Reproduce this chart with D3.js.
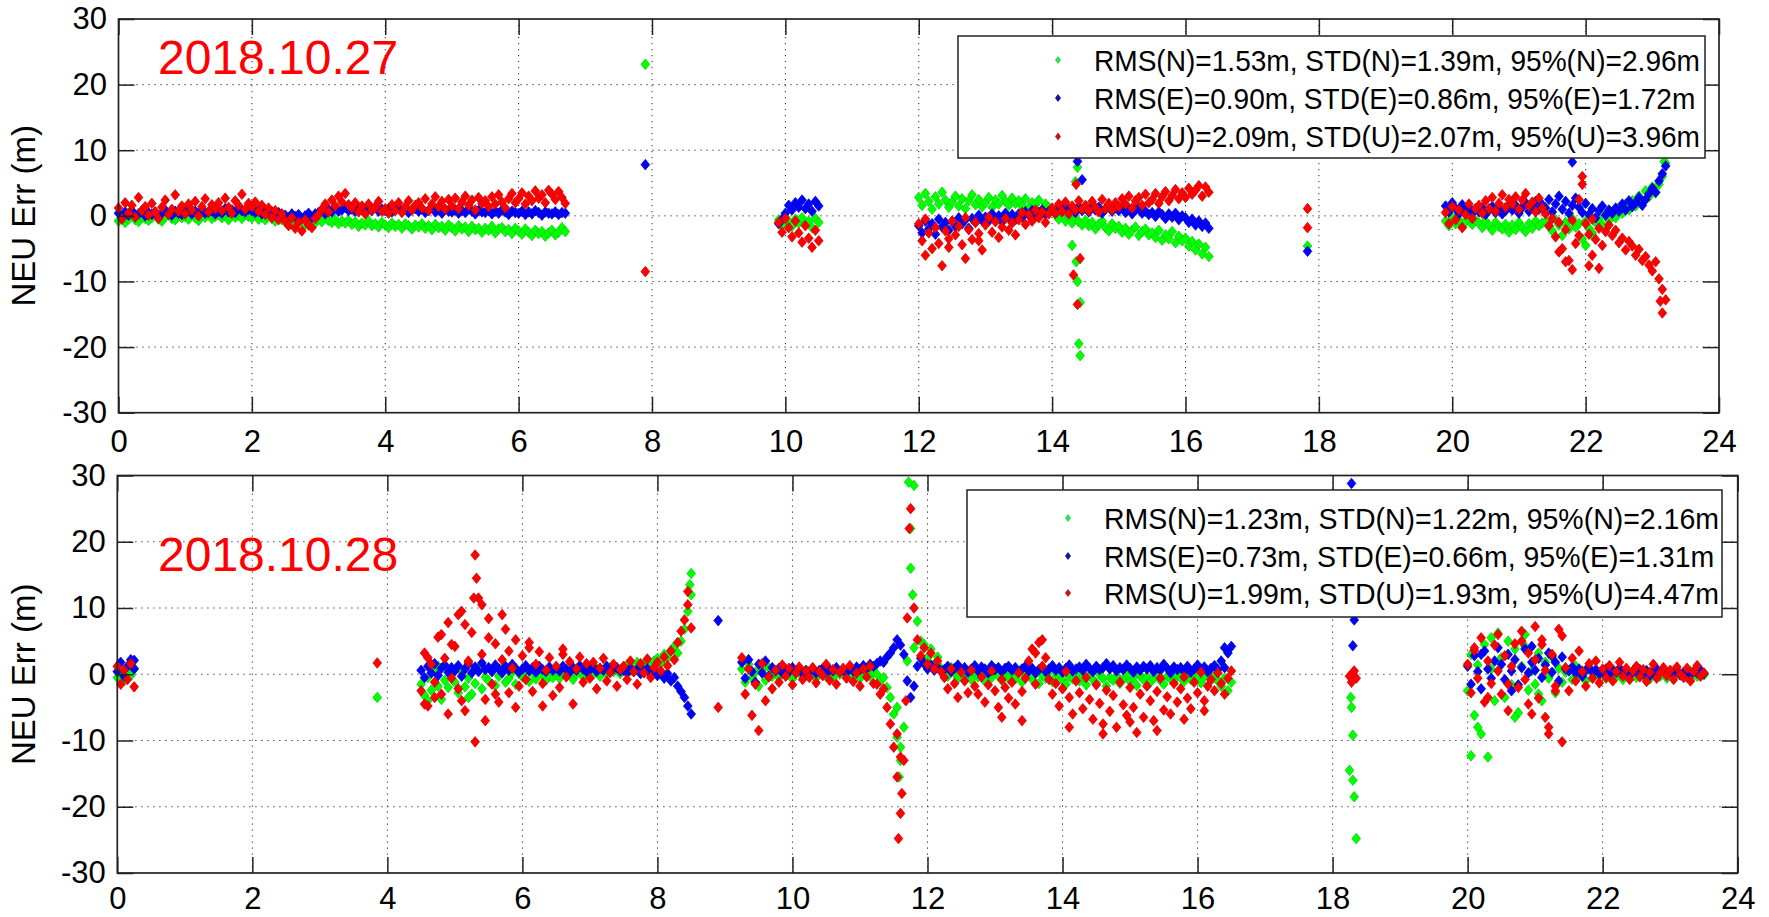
<!DOCTYPE html>
<html><head><meta charset="utf-8">
<script src="https://cdn.jsdelivr.net/npm/d3@7"></script>
<style>
body{margin:0;background:#fff}
svg{display:block}
text{font-family:"Liberation Sans",Arial,Helvetica,sans-serif}
</style>
</head><body>
<svg id="c" width="1769" height="917"></svg>
<script>
// ---------------- data ----------------
const xTicks = [0,2,4,6,8,10,12,14,16,18,20,22,24];
const yTicks = [-30,-20,-10,0,10,20,30];
const xDomain = [0,24];
const yDomain = [-30,30];
const EPOCH = 0.05; // hours between plotted epochs
const titles = ["2018.10.27","2018.10.28"];
const d27Legend = ["RMS(N)=1.53m, STD(N)=1.39m, 95%(N)=2.96m","RMS(E)=0.90m, STD(E)=0.86m, 95%(E)=1.72m","RMS(U)=2.09m, STD(U)=2.07m, 95%(U)=3.96m"];
const d28Legend = ["RMS(N)=1.23m, STD(N)=1.22m, 95%(N)=2.16m","RMS(E)=0.73m, STD(E)=0.66m, 95%(E)=1.31m","RMS(U)=1.99m, STD(U)=1.93m, 95%(U)=4.47m"];

// 2018.10.27 : start time (h) of each continuous segment
const d27Start = [0, 9.9, 12.0, 19.9];
const d27N = [
 [-0.8,-0.3,-1.0,-0.5,0.2,-0.6,-0.9,-0.2,-0.4,-0.7, -0.3,0.1,-0.5,-0.8,-0.2,0.3,-0.4,-0.6,0.0,-0.3,
  -0.1,-0.5,0.2,-0.3,-0.7,0.1,-0.2,0.4,-0.4,-0.1, 0.2,-0.3,0.0,-0.6,0.3,-0.2,0.1,-0.4,0.2,-0.1,
  -0.3,0.1,-0.5,-0.2,-0.6,-0.1,-0.4,-0.8,-0.3,-0.6, -0.9,-0.4,-1.2,-0.7,-1.0,-0.5,-1.3,-0.8,-0.6,-1.1,
  -0.5,-0.9,-0.3,-0.7,-1.0,-0.6,-1.2,-0.8,-1.1,-0.7, -1.3,-0.9,-1.6,-1.1,-1.4,-0.8,-1.5,-1.2,-1.7,-1.0,
  -1.4,-1.8,-1.1,-1.6,-1.3,-1.9,-1.2,-1.5,-2.0,-1.4, -1.7,-1.2,-1.9,-1.5,-2.1,-1.3,-1.8,-1.6,-2.2,-1.4,
  -1.8,-2.3,-1.5,-2.0,-1.7,-2.4,-1.6,-2.1,-1.9,-2.5, -1.9,-2.2,-1.6,-2.6,-2.0,-1.8,-2.4,-2.1,-2.7,-1.9,
  -2.3,-2.8,-2.0,-2.5,-3.0,-2.2,-2.7,-2.4,-3.1,-2.6, -2.2,-2.9,-2.5,-1.8,-2.4],
 [-0.6,-1.4,-0.2,-0.9,-1.6,-0.5,-1.1,-0.3,-1.3,-0.8,-1.8,-0.4,-1.0],
 [2.8,1.6,3.4,2.2,1.0,2.9,1.8,3.6,2.4,1.3, 2.1,3.0,1.5,2.6,1.1,2.3,3.2,1.7,2.5,1.4,
  2.0,2.8,1.3,2.4,1.8,3.1,2.2,1.6,2.7,1.9, 2.3,1.5,2.6,1.2,2.0,1.7,2.4,0.9,1.8,1.3,
  0.8,0.2,-0.5,0.4,-0.8,-0.2,-1.1,-0.4,-0.9,-1.4, -0.7,-1.5,-1.0,-2.0,-1.3,-0.8,-1.8,-2.3,-1.2,-1.9,
  -1.6,-2.5,-1.9,-2.8,-2.2,-1.7,-3.0,-2.4,-2.0,-2.9, -2.6,-3.3,-2.2,-3.7,-2.9,-3.5,-2.4,-4.1,-3.1,-3.8,
  -3.4,-4.6,-3.9,-5.2,-4.3,-5.8,-4.8,-6.2],
 [-0.8,-1.5,-0.3,-1.2,-0.6,-1.7,-0.9,-0.4,-1.3,-0.7, -1.1,-1.8,-0.8,-1.5,-2.2,-1.0,-1.6,-2.0,-1.3,-2.5,
  -1.4,-2.1,-1.0,-1.8,-2.4,-1.2,-1.9,-0.8,-1.5,-1.1, -0.9,-1.6,-2.3,-0.6,-1.4,-3.0,-1.0,-2.0,-0.4,-1.7,
  -1.2,-3.5,-0.8,-1.9,-2.6,-1.0,-0.5,-1.4,0.2,-0.7, 0.5,-0.3,1.2,0.4,1.8,0.9,2.3,1.5,3.0,2.0,
  3.8,2.9,4.4,3.5,4.8,6.0,8.0]
];
const d27E = [
 [0.4,-0.2,0.6,0.1,0.8,-0.1,0.3,0.7,0.0,0.5, 0.2,0.6,-0.1,0.4,0.9,0.3,0.1,0.7,0.4,0.2,
  0.5,0.9,0.3,0.7,0.2,1.0,0.4,0.6,0.8,0.3, 0.7,0.4,1.1,0.6,0.9,0.5,1.2,0.8,0.6,1.0,
  0.8,0.5,0.9,0.3,0.7,0.4,0.6,0.1,0.5,0.2, 0.1,-0.3,0.3,-0.1,0.2,-0.4,0.0,0.4,-0.2,0.3,
  0.5,0.8,0.3,1.0,0.6,1.2,0.7,0.9,1.3,0.8, 1.0,0.7,1.2,0.9,0.6,1.1,0.8,1.3,0.7,1.0,
  0.8,1.1,0.6,0.9,1.2,0.7,1.0,0.5,0.9,1.1, 0.7,1.0,0.5,0.8,1.2,0.6,0.9,0.4,1.0,0.7,
  0.6,0.9,0.4,0.8,0.5,1.0,0.7,0.3,0.8,0.6, 0.5,0.8,0.3,0.7,0.4,0.9,0.6,0.2,0.7,0.5,
  0.4,0.7,0.2,0.6,0.3,0.8,0.5,0.1,0.6,0.4, 0.3,0.6,0.2,0.5,0.4],
 [-1.2,-0.5,0.4,1.6,0.9,2.0,1.3,2.4,1.1,1.8,0.7,2.2,1.5],
 [-1.5,-2.6,-0.8,-2.0,-1.2,-2.8,-0.5,-1.7,-1.0,-2.2, -0.9,-1.6,-0.3,-1.2,-0.6,-1.9,-0.4,-1.0,0.1,-0.7,
  -0.2,-0.8,0.3,-0.5,0.0,-0.9,0.4,-0.3,0.2,-0.6, 0.3,-0.2,0.6,0.1,0.8,-0.1,0.5,0.9,0.2,0.7,
  1.0,0.4,1.3,0.7,1.5,0.9,1.2,0.5,1.4,0.8, 1.1,0.6,1.5,0.9,1.3,0.4,1.0,1.6,0.7,1.2,
  0.8,1.3,0.5,1.0,0.3,0.9,1.2,0.4,0.7,0.2, 0.5,-0.1,0.6,0.2,-0.4,0.3,-0.2,0.4,-0.6,0.0,
  -0.3,-1.0,-0.5,-1.4,-0.8,-1.6,-1.1,-1.9],
 [1.5,0.6,2.0,1.1,0.3,1.7,0.8,1.3,0.4,1.0, 0.6,1.2,0.2,0.9,1.4,0.5,1.1,0.3,0.8,1.5,
  0.9,1.6,0.4,1.3,2.0,0.7,1.4,2.2,1.0,1.7, 1.2,2.5,0.6,1.8,3.0,1.0,2.2,0.4,1.6,2.7,
  1.3,0.5,1.9,0.2,1.1,-0.3,0.8,1.5,0.1,0.9, 0.4,1.2,0.7,1.8,0.9,2.3,1.4,2.0,2.8,1.6,
  2.5,3.4,4.2,3.6,5.3,6.4,7.6]
];
const d27U = [
 [1.2,-0.5,2.0,0.4,1.6,-0.2,2.8,0.8,1.4,0.1, 1.9,0.6,-0.4,1.3,2.4,0.2,1.0,3.2,0.7,1.5,
  0.3,1.8,0.9,2.2,0.0,1.4,2.6,0.6,1.7,1.1, 2.0,0.8,2.7,1.3,0.4,2.3,1.6,3.3,1.0,1.9,
  1.4,2.1,0.7,1.6,0.2,1.2,-0.3,0.8,-0.6,0.3, -0.8,-1.5,-0.3,-1.9,-1.0,-2.3,-0.6,-1.4,-1.8,-0.4,
  0.2,1.0,1.8,0.6,2.4,1.5,3.0,2.1,3.4,1.7, 1.2,2.0,0.6,1.5,0.3,1.8,0.9,1.3,2.2,0.7,
  1.1,0.4,1.7,0.8,2.0,0.5,1.4,2.3,0.9,1.6, 2.0,1.2,2.6,0.8,1.8,2.9,1.4,2.2,1.0,2.5,
  1.5,2.7,1.1,2.1,3.0,1.6,2.4,0.9,2.8,1.9, 2.3,1.4,2.9,1.8,3.2,2.1,1.2,2.6,3.4,2.0,
  2.6,3.5,1.8,3.0,2.3,3.8,2.7,3.2,2.0,3.9, 3.3,2.5,3.7,2.8,1.9],
 [-1.0,-2.5,-0.4,-1.8,-3.2,-0.8,-2.6,-4.0,-1.5,-3.4,-4.8,-2.2,-3.8],
 [-1.2,-3.8,-0.5,-2.6,-5.0,-1.8,-4.2,-7.6,-2.3,-3.5, -0.8,-2.9,-1.6,-4.4,-0.3,-2.1,-3.6,-1.0,-2.7,-5.2,
  -1.4,-0.2,-2.5,-0.9,-3.3,-1.7,-0.4,-2.2,-1.1,-2.9, -0.6,0.5,-1.3,0.2,-0.8,0.9,-0.3,0.6,-1.0,0.3,
  1.2,0.4,1.8,0.7,2.1,0.3,1.5,0.9,2.3,1.0, 1.6,0.8,2.2,1.3,0.6,2.5,1.1,1.9,0.9,2.0,
  1.4,2.6,1.8,3.0,1.2,2.3,2.8,1.6,3.3,2.0, 2.5,3.4,1.9,2.9,3.7,2.3,3.1,4.0,2.6,3.5,
  2.8,4.2,3.3,3.9,4.6,3.0,4.4,3.6],
 [0.5,-1.2,1.4,-0.6,0.9,-1.8,0.2,1.8,-0.4,1.1, 1.6,0.4,2.3,1.1,2.8,0.7,1.9,3.2,1.3,2.5,
  1.8,2.9,1.0,2.4,3.4,1.5,2.1,0.6,2.7,1.2, 0.3,-1.5,-0.4,-3.2,-1.0,-5.0,-2.1,-6.8,-0.7,-4.2,
  2.5,4.8,-1.2,-2.8,-0.5,-3.6,-1.9,-4.5,-2.4,-1.4, -3.0,-2.2,-4.1,-3.4,-5.2,-3.9,-4.6,-6.0,-5.1,-6.8,
  -6.2,-7.5,-8.4,-7.0,-9.6,-11.2,-12.8]
];
// isolated epochs [time h, value m]
const d27N_iso = [[7.9,23.1],[14.38,7.4],[14.35,5.2],[14.3,-4.5],[14.36,-7.0],[14.38,-10.0],[14.42,-13.2],[14.4,-19.5],[14.42,-21.3],[17.83,-4.6],[22.0,-4.5],[22.1,-3.0],[23.18,8.3]];
const d27E_iso = [[7.9,7.8],[14.38,8.3],[14.45,5.5],[17.83,-5.4],[21.8,8.2]];
const d27U_iso = [[7.9,-8.5],[12.1,-6.0],[12.45,-4.8],[12.7,-6.5],[12.9,-3.8],[14.38,-13.5],[14.32,-9.0],[14.42,-6.5],[14.36,4.8],[17.83,1.1],[17.83,-1.8],[21.6,-5.5],[21.7,-7.0],[21.9,-3.0],[21.95,6.0],[21.8,-8.2],[22.05,-7.6],[22.1,-6.0],[22.2,-8.0],[23.15,-14.8],[23.12,-13.0]];

// 2018.10.28
const d28Start = [0, 4.5, 9.25, 20.0];
const d28N = [
 [-0.5,0.3,-1.0,0.6,-0.2,0.9],
 [-1.5,-3.2,-0.5,-2.4,0.6,-1.8,-3.8,-0.9,-2.0,0.2, -1.2,-2.8,0.4,-1.9,-0.6,-3.0,-1.4,0.8,-2.2,-0.4,
  -1.0,0.5,-1.7,-0.3,0.9,-1.2,-0.6,0.3,-1.5,0.1, -0.4,0.6,-1.1,0.2,-0.7,0.8,-0.2,-0.9,0.4,-0.5,
  0.3,-0.6,0.7,-0.2,0.5,-0.8,0.1,0.6,-0.4,0.2, 0.5,0.0,0.8,-0.3,0.6,0.2,1.0,0.4,0.9,0.1,
  0.8,1.4,0.5,1.2,1.8,0.9,1.5,2.2,1.1,2.0, 2.4,1.7,3.0,2.5,3.6,4.2,3.2,5.0,6.8,9.5, 12.0],
 [0.8,-1.2,1.5,-0.5,0.3,-1.8,0.6,-0.9,1.0,-0.3, 0.2,-0.5,0.6,-0.2,0.4,-0.7,0.1,0.5,-0.4,0.3,
  -0.2,0.4,-0.6,0.1,0.5,-0.3,0.2,-0.5,0.6,0.0, 0.3,-0.4,0.7,-0.1,0.5,-0.6,0.2,0.8,-0.3,0.4,
  0.0,-1.0,-0.5,-2.0,-3.5,-6.0,-9.5,-13.0,-8.0,2.0,16.0,28.5, 8.0,5.0,4.5,2.5,3.8,1.5,2.6,0.9,
  0.5,-0.3,1.0,0.2,-0.6,0.7,-0.1,0.4,-0.8,0.3, -0.4,0.6,-1.0,0.1,-0.5,0.8,-0.2,-0.9,0.3,-0.6,
  0.2,-0.7,0.5,-1.2,-0.3,0.4,-0.8,0.1,-1.4,-0.2, -0.6,0.3,-1.1,-0.4,0.2,-0.9,-1.5,-0.3,-0.7,0.1,
  -1.0,-0.4,-1.6,-0.2,-0.8,-1.3,0.0,-0.6,-1.8,-0.5, -0.9,-0.3,-1.4,-0.7,0.1,-1.1,-0.5,-1.7,-0.2,-0.8,
  -0.4,-1.2,-0.6,0.2,-0.9,-1.5,-0.3,-0.7,-1.0,0.0, -0.5,-1.1,-0.2,-0.8,0.3,-0.6,-1.3,-0.4,0.1,-0.9,
  -0.3,-1.0,-1.8,-0.6,-2.5,-1.2],
 [-2.5,3.0,-6.2,1.4,-9.0,4.5,-12.5,0.8,-4.0,6.2, 2.5,-3.5,5.0,-1.6,3.8,-5.8,1.2,4.2,-2.4,0.5,
  -1.5,3.2,-4.0,1.8,-0.6,2.6,-2.8,0.9,-1.2,0.3, 0.6,-0.8,1.2,-0.3,0.5,-1.0,0.8,-0.5,0.3,-0.2,
  0.4,-0.6,0.2,0.7,-0.4,0.1,-0.8,0.5,-0.2,0.3, -0.5,0.3,-0.2,0.6,-0.7,0.1,0.4,-0.3,0.2,-0.6,
  0.3,-0.4,0.5,-0.1,0.2,-0.5,0.4,0.0,-0.3,0.2,-0.1]
];
const d28E = [
 [0.4,1.8,-0.3,1.2,2.2,0.8],
 [0.6,-0.5,1.2,0.2,1.6,-0.2,0.9,1.4,0.3,1.0, 0.5,1.3,-0.3,0.8,1.5,0.2,1.1,0.4,1.7,0.7,
  1.0,0.4,1.4,0.8,0.2,1.2,0.6,1.5,0.9,0.3, 0.8,1.3,0.5,1.0,0.3,1.2,0.7,0.4,1.1,0.6,
  0.9,0.5,1.2,0.7,0.3,1.0,0.6,1.3,0.8,0.4, 0.7,1.1,0.4,0.9,0.6,1.2,0.3,0.8,1.0,0.5,
  0.6,0.2,0.9,0.4,0.7,0.1,0.5,0.8,0.0,0.3, -0.2,0.4,-0.6,0.1,-1.0,-0.5,-1.8,-2.6,-3.5,-4.8, -6.0],
 [1.8,-0.6,2.2,0.4,-1.2,1.5,0.2,2.0,-0.3,1.0, 0.5,0.9,0.2,0.7,0.4,1.0,0.3,0.8,0.1,0.6,
  0.4,0.8,0.2,0.6,0.9,0.3,0.7,0.5,1.0,0.4, 0.6,0.3,0.9,0.5,1.1,0.7,1.3,0.9,1.5,1.2,
  1.6,2.0,1.8,2.6,3.2,4.0,5.2,4.4,3.0,-1.0,-3.5,-1.8, 1.2,2.4,1.6,0.8,1.4,0.6,1.0,0.5,
  0.7,1.2,0.4,0.9,1.4,0.6,1.0,0.3,0.8,1.3, 0.5,1.1,0.8,0.2,1.3,0.7,1.0,0.4,0.9,1.2,
  0.6,1.0,0.3,0.8,1.2,0.5,0.9,0.2,0.7,1.1, 0.4,0.8,1.3,0.6,1.0,0.3,0.9,1.4,0.5,0.8,
  1.1,0.6,1.5,0.9,0.4,1.2,0.7,1.0,1.6,0.8, 1.3,0.5,1.0,0.7,1.4,0.9,0.3,1.1,0.6,1.2,
  0.8,1.3,0.4,1.0,0.6,1.5,0.9,0.2,1.1,0.7, 1.0,0.5,1.2,0.3,0.8,1.4,0.6,1.1,0.4,0.9,
  1.3,0.7,2.0,1.0,3.2,4.2],
 [1.2,-1.5,2.8,0.4,-2.2,3.5,0.8,-0.6,2.0,4.0, 1.5,-0.8,3.0,0.5,2.2,-1.6,1.0,3.8,0.2,1.8,
  0.6,2.4,-0.5,1.4,3.2,0.3,1.8,-1.0,2.6,0.8, 0.5,1.1,0.2,0.8,-0.3,0.6,1.0,0.3,0.7,0.1,
  0.4,0.8,0.0,0.6,0.3,0.9,0.2,0.5,-0.1,0.4, 0.3,0.7,0.1,0.5,-0.2,0.4,0.8,0.2,0.6,0.0,
  0.4,0.1,0.6,-0.1,0.3,0.5,0.0,0.4,0.2,0.6,0.1]
];
const d28U = [
 [1.2,-1.5,0.6,-0.8,1.6,-1.9],
 [-2.5,3.2,-4.8,1.5,-1.2,5.6,-3.0,2.4,7.8,-0.6, 4.2,-2.2,9.5,-5.5,1.8,6.3,-10.2,11.5,3.0,-3.8,
  8.4,-1.5,4.6,-4.2,2.2,6.8,-2.8,0.9,5.2,-1.8, 2.8,-0.8,4.0,-2.6,1.5,3.4,-1.4,0.6,2.5,-3.2,
  1.2,-2.0,3.0,-0.4,1.9,-4.5,0.8,2.6,-1.2,1.6, -0.6,1.8,-2.2,0.9,2.4,-1.0,0.3,1.5,-1.8,0.7,
  1.2,-0.8,2.0,0.4,-1.5,1.6,0.2,2.3,-0.5,1.0, 1.8,0.5,2.6,1.3,3.5,2.2,4.8,6.5,8.2,10.5, 7.0],
 [2.5,-3.0,0.8,-6.2,-1.5,-8.5,1.6,-4.0,-0.4,-2.2, 0.6,-1.2,1.4,-0.3,0.9,-1.6,0.2,1.1,-0.8,0.5,
  -0.5,1.0,-1.3,0.4,-0.2,1.5,-0.9,0.7,-1.5,0.3, 0.9,-0.6,1.3,-1.1,0.2,-1.8,0.8,-0.4,1.2,-1.4,
  -1.5,-3.0,-2.2,-5.0,-7.5,-11.0,-15.5,-21.0,-13.0,8.5,25.0,10.0, 5.2,2.8,4.0,1.5,3.2,0.8,2.0,0.4,
  -0.5,-2.2,0.8,-1.4,-3.5,0.3,-1.0,-2.8,0.6,-1.8, -3.0,-0.4,-4.2,-1.6,0.5,-2.5,-5.0,-0.8,-2.0,-3.6,
  -1.2,-4.5,0.2,-2.6,-0.6,2.0,3.8,-1.5,4.8,1.2, 2.5,-0.8,-3.0,-1.4,-4.8,-2.2,0.4,-3.5,-6.0,-1.0,
  -2.8,-5.2,-0.5,-3.8,-6.8,-1.6,-4.4,-7.5,-2.4,-5.6, -3.2,-8.0,-1.2,-4.6,-6.2,-2.0,-5.0,-8.8,-3.0,-6.5,
  -1.8,-4.0,-7.0,-2.6,-0.6,-5.4,-3.4,-6.0,-1.4,-4.2, -2.2,-0.4,-3.6,-5.2,-1.2,-2.8,0.3,-4.0,-1.8,-0.8,
  -2.5,0.2,-1.4,-3.0,-0.6,0.5],
 [1.5,-2.8,3.6,-0.6,5.5,-4.2,2.0,-1.4,4.4,0.5, -3.0,2.8,-5.5,1.2,4.6,-2.0,6.5,-0.8,3.2,-6.0,
  2.2,-3.6,5.2,0.6,-8.0,3.0,-1.8,6.8,-10.2,1.0, -2.5,2.4,-1.0,3.5,0.4,-1.8,1.6,-0.6,2.0,-1.3,
  0.8,-0.5,1.3,-1.0,0.4,1.8,-0.3,0.9,-0.8,0.5, 1.2,-0.4,0.7,-1.1,0.3,1.5,-0.6,0.2,1.0,-0.2,
  0.6,-0.8,1.1,0.0,-0.5,0.9,-1.0,0.4,1.3,-0.3,0.2]
];
const d28N_iso = [[3.85,-3.5],[4.6,-4.0],[4.75,1.2],[5.2,-3.5],[8.5,15.2],[8.48,13.5],[11.58,-15.5],[11.6,-11.0],[11.55,-5.0],[11.72,29.0],[11.75,22.0],[11.78,12.0],[11.8,4.0],[18.27,-3.5],[18.28,-5.0],[18.3,-9.2],[18.25,-14.5],[18.3,-16.0],[18.32,-18.5],[18.35,-24.8],[20.05,-12.3],[20.15,-8.0],[20.35,5.5],[20.7,-6.5],[20.85,6.0],[21.05,-3.0]];
const d28E_iso = [[0.25,2.1],[8.9,8.1],[16.4,4.0],[18.28,28.8],[18.3,10.0],[18.32,8.2],[18.3,4.3],[20.2,3.0],[20.65,-2.5],[20.95,4.2],[21.25,2.8]];
const d28U_iso = [[3.85,1.7],[4.55,-4.5],[4.6,2.5],[4.7,-3.5],[4.8,6.0],[4.9,-6.0],[4.95,4.5],[5.05,9.0],[5.1,-4.0],[5.15,7.5],[5.2,2.0],[5.28,11.5],[5.32,14.5],[5.3,18.0],[5.4,10.5],[5.45,-7.0],[5.5,5.5],[5.6,-3.0],[5.7,9.0],[5.8,3.5],[5.9,-5.0],[6.1,4.8],[6.3,-4.8],[6.6,3.8],[8.45,12.5],[8.9,-5.0],[11.55,-9.0],[11.6,-12.5],[11.62,-18.0],[11.57,-24.8],[11.68,-4.0],[11.73,22.0],[13.1,-6.5],[13.4,-7.0],[13.6,3.2],[13.7,5.2],[14.1,-8.0],[14.6,-9.0],[15.0,-7.2],[15.4,-8.5],[15.8,-6.8],[16.1,-5.5],[18.25,-0.3],[18.3,0.2],[18.35,-0.6],[18.28,-1.2],[18.32,0.5],[20.1,4.0],[20.3,-3.5],[20.45,6.0],[20.6,-1.5],[20.8,5.0],[20.9,-4.5],[21.0,7.2],[21.1,4.5],[21.15,-6.5],[21.2,-9.0],[21.3,-2.5],[21.4,5.8]];

// ---------------- drawing ----------------
const svg = d3.select("#c");
svg.append("rect").attr("width",1769).attr("height",917).attr("fill","#fff");

const seriesStyle = [
  {fill:"#00ff00", stroke:"#00cc00", legend:"#33dd55"},
  {fill:"#0000ff", stroke:"#0000c0", legend:"#1414a8"},
  {fill:"#ff0000", stroke:"#d00000", legend:"#c01818"}
];
const diamond = "M0,-5.3L4.4,0L0,5.3L-4.4,0Z";
const legDiamond = "M0,-4L3,0L0,4L-3,0Z";

function toPoints(starts, segs, iso){
  const pts = [];
  segs.forEach((vals,si)=>vals.forEach((v,i)=>pts.push([starts[si]+i*EPOCH, v])));
  iso.forEach(p=>pts.push(p));
  return pts;
}

const panels = [
  {l:118.5, r:1719, t:19, b:412.7, pad:17, starts:d27Start, series:[[d27N,d27N_iso],[d27E,d27E_iso],[d27U,d27U_iso]],
   title:titles[0], tx:158, ty:74, legend:d27Legend,
   leg:{x:958, y:36, w:747, h:122, rows:[60,98,136.5], mx:1058, txx:1094, tw:606}},
  {l:117.3, r:1737.7, t:475.5, b:873, pad:14, starts:d28Start, series:[[d28N,d28N_iso],[d28E,d28E_iso],[d28U,d28U_iso]],
   title:titles[1], tx:158, ty:571, legend:d28Legend,
   leg:{x:967, y:490, w:755, h:127, rows:[518,556,593], mx:1068, txx:1104, tw:615}}
];

panels.forEach(p=>{
  const g = svg.append("g");
  const x = d3.scaleLinear().domain(xDomain).range([p.l,p.r]);
  const y = d3.scaleLinear().domain(yDomain).range([p.b,p.t]);

  // grid
  const grid = g.append("g").attr("stroke","#000").attr("stroke-width",1).attr("stroke-dasharray","1.2,4.8").attr("opacity",0.85);
  grid.selectAll(".gx").data(xTicks.slice(1,-1)).join("line")
    .attr("x1",d=>x(d)).attr("x2",d=>x(d)).attr("y1",p.t).attr("y2",p.b);
  grid.selectAll(".gy").data(yTicks.slice(1,-1)).join("line")
    .attr("y1",d=>y(d)).attr("y2",d=>y(d)).attr("x1",p.l).attr("x2",p.r);

  // points
  p.series.forEach((s,k)=>{
    const pts = toPoints(p.starts, s[0], s[1]);
    g.append("g").selectAll("path").data(pts).join("path")
      .attr("d",diamond)
      .attr("transform",d=>`translate(${x(d[0])},${y(d[1])})`)
      .attr("fill",seriesStyle[k].fill)
      .attr("stroke",seriesStyle[k].stroke)
      .attr("stroke-width",0.7);
  });

  // axes (inward ticks on all four sides)
  const fmt = d=>String(d);
  const ax = g.append("g").attr("transform",`translate(0,${p.b})`)
    .call(d3.axisBottom(x).tickValues(xTicks).tickSizeInner(-16).tickSizeOuter(0).tickPadding(p.pad).tickFormat(fmt));
  const ay = g.append("g").attr("transform",`translate(${p.l},0)`)
    .call(d3.axisLeft(y).tickValues(yTicks).tickSizeInner(-16).tickSizeOuter(0).tickPadding(11.5).tickFormat(fmt));
  const at = g.append("g").attr("transform",`translate(0,${p.t})`)
    .call(d3.axisTop(x).tickValues(xTicks).tickSizeInner(-16).tickSizeOuter(0).tickFormat(""));
  const ar = g.append("g").attr("transform",`translate(${p.r},0)`)
    .call(d3.axisRight(y).tickValues(yTicks).tickSizeInner(-16).tickSizeOuter(0).tickFormat(""));
  [ax,ay,at,ar].forEach(a=>{
    a.select(".domain").remove();
    a.selectAll("line").attr("stroke","#222").attr("stroke-width",1.5);
    a.selectAll("text").attr("fill","#000").attr("font-size",31).attr("font-family",'"Liberation Sans",Arial,sans-serif');
  });
  g.append("rect").attr("x",p.l).attr("y",p.t).attr("width",p.r-p.l).attr("height",p.b-p.t)
    .attr("fill","none").attr("stroke","#222").attr("stroke-width",1.7);

  // y label
  g.append("text").attr("transform",`translate(35,${(p.t+p.b)/2}) rotate(-90)`)
    .attr("text-anchor","middle").attr("font-size",33).attr("fill","#000").text("NEU Err (m)");

  // title
  g.append("text").attr("x",p.tx).attr("y",p.ty).attr("font-size",48).attr("fill","#ff0000").text(p.title);

  // legend
  const L = p.leg;
  g.append("rect").attr("x",L.x).attr("y",L.y).attr("width",L.w).attr("height",L.h)
    .attr("fill","#fff").attr("stroke","#222").attr("stroke-width",1.5);
  let k = null;
  p.legend.forEach((txt,i)=>{
    g.append("path").attr("d",legDiamond).attr("transform",`translate(${L.mx},${L.rows[i]})`)
      .attr("fill",seriesStyle[i].legend);
    const t = g.append("text").attr("x",L.txx).attr("y",L.rows[i]).attr("dy","0.36em")
      .attr("font-size",30).attr("fill","#000").text(txt);
    const w = t.node().getComputedTextLength();
    if(k===null) k = L.tw / w;
    t.attr("textLength", w*k).attr("lengthAdjust","spacingAndGlyphs");
  });
});
</script>
</body></html>
